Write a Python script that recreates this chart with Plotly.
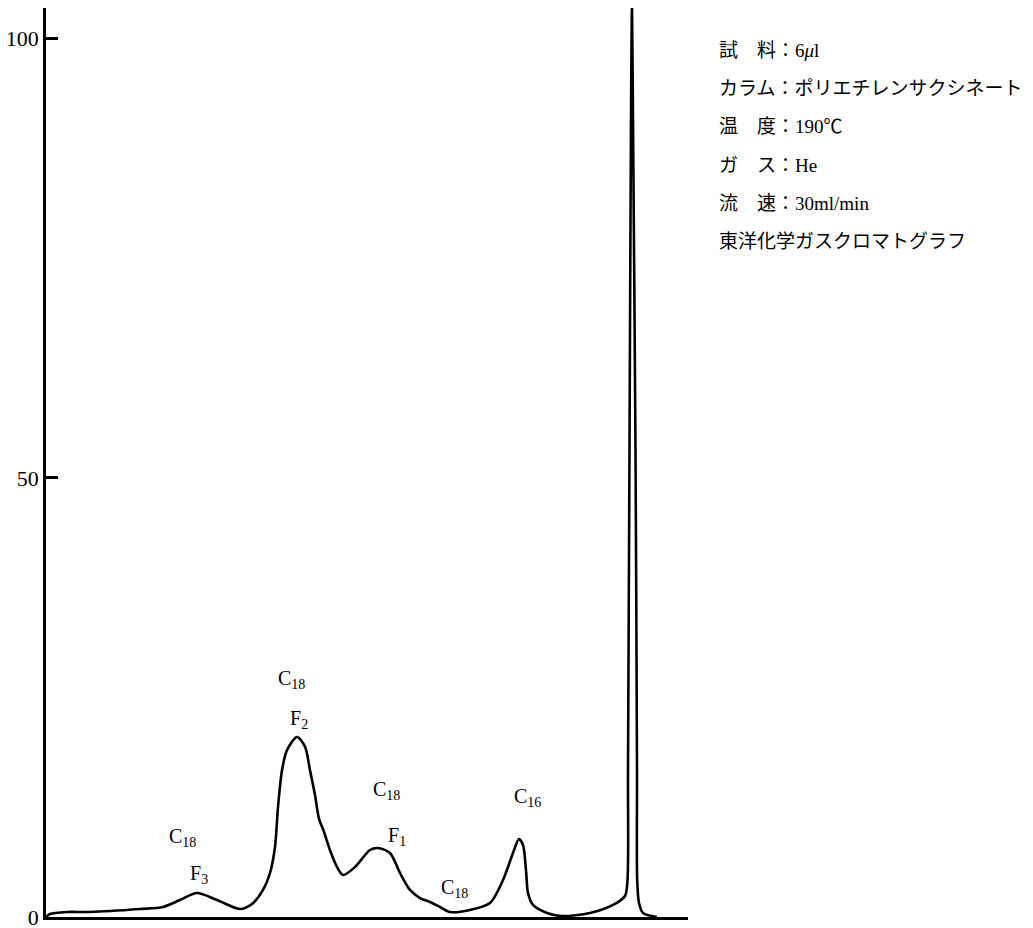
import plotly.graph_objects as go

# Retention position (arbitrary units) and detector response (relative %)
retention = [0.0, 0.4, 2.1, 4.4, 9.4, 11.7, 13.4, 15.1, 17.1, 19.4, 20.6, 21.7, 22.4,
             22.9, 23.2, 23.6, 24.1, 25.1, 25.9, 26.4, 26.9, 27.3, 27.8, 28.4, 29.1,
             29.7, 30.9, 32.4, 33.2, 34.4, 35.4, 36.4, 37.4, 38.4, 39.4, 40.4, 42.4,
             44.4, 45.7, 46.7, 47.3, 47.7, 48.0, 48.2, 48.7, 50.1, 51.6, 54.4, 56.7,
             57.9, 58.15, 58.2, 58.35, 58.5, 58.6, 58.7, 58.95, 59.1, 59.12, 59.3,
             59.7, 61.1]
response = [0.0, 0.34, 0.57, 0.57, 0.91, 1.14, 1.94, 2.73, 1.94, 0.91, 1.48, 3.08, 5.01,
            7.97, 12.5, 16.7, 19.0, 20.5, 19.4, 16.7, 13.9, 11.2, 9.7, 7.6, 5.7,
            4.78, 5.69, 7.63, 7.86, 7.29, 5.01, 3.08, 2.16, 1.71, 1.14, 0.57, 0.80,
            1.59, 4.21, 7.29, 8.88, 8.20, 5.35, 2.73, 1.37, 0.46, 0.11, 0.46, 1.37,
            2.39, 4.21, 16.7, 53.2, 90.8, 103.5, 90.8, 53.2, 16.7, 4.2, 1.6,
            0.46, 0.0]

y_ticks = [0, 50, 100]
y_tick_labels = ["0", "50", "100"]

peak_labels = ["C<sub>18</sub>", "F<sub>3</sub>", "C<sub>18</sub>", "F<sub>2</sub>",
               "C<sub>18</sub>", "F<sub>1</sub>", "C<sub>18</sub>", "C<sub>16</sub>"]
peak_label_x = [13.6, 15.3, 24.5, 25.3, 34.0, 35.1, 40.8, 48.1]
peak_label_y = [9.0, 4.8, 27.0, 22.5, 14.4, 9.2, 3.3, 13.6]

conditions = ["試　料：6<i>μ</i>l",
              "カラム：ポリエチレンサクシネート",
              "温　度：190℃",
              "ガ　ス：He",
              "流　速：30ml/min",
              "東洋化学ガスクロマトグラフ"]

SERIF = "Liberation Serif, Noto Sans CJK JP, serif"

fig = go.Figure()
fig.add_trace(go.Scatter(
    x=retention, y=response, mode="lines",
    line=dict(color="black", width=2.6, shape="spline", smoothing=0.8),
    hoverinfo="skip", showlegend=False, cliponaxis=False))

W, H = 1033, 928
L, R, T, B = 46, 688, 8, 917

for txt, x, y in zip(peak_labels, peak_label_x, peak_label_y):
    fig.add_annotation(x=x, y=y, xref="x", yref="y", text=txt, showarrow=False,
                       font=dict(family=SERIF, size=20, color="black"),
                       xanchor="center", yanchor="middle")

line_px = [51, 89, 127, 165, 203, 241]
for txt, py in zip(conditions, line_px):
    fig.add_annotation(x=(717 - L) / (R - L), y=(B - py) / (B - T),
                       xref="paper", yref="paper", text=txt, showarrow=False,
                       font=dict(family=SERIF, size=19, color="black"),
                       xanchor="left", yanchor="middle")

fig.update_layout(
    width=W, height=H,
    margin=dict(l=L, r=W - R, t=T, b=H - B, pad=0, autoexpand=False),
    paper_bgcolor="white", plot_bgcolor="white",
    xaxis=dict(range=[0, 64.2], showgrid=False, zeroline=False, showticklabels=False,
               ticks="", showline=True, linecolor="black", linewidth=2.5,
               automargin=False, fixedrange=True),
    yaxis=dict(range=[0, 103.5], showgrid=False, zeroline=False,
               tickvals=y_ticks, ticktext=y_tick_labels, ticks="inside", ticklen=12,
               tickwidth=2.5, tickcolor="black", showline=True, linecolor="black",
               linewidth=2.5, tickfont=dict(family=SERIF, size=22, color="black"),
               ticklabeloverflow="allow", automargin=False, fixedrange=True),
)

fig.write_html("out.html")
